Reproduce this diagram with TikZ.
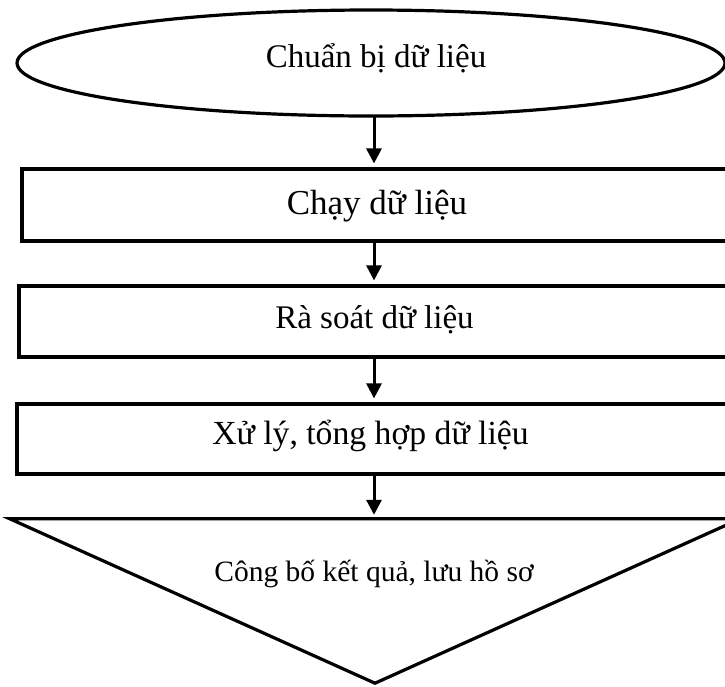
\documentclass[tikz,border=0pt]{standalone}
\usepackage{fontspec}
\setmainfont{Liberation Serif}
\usetikzlibrary{shapes.geometric,arrows.meta}
\tikzset{
  shapeline/.style={draw=black, line width=3.2pt},
  ellbox/.style={shapeline, ellipse, inner sep=0pt, minimum width=708pt, minimum height=106pt},
  stepbox/.style={shapeline, rectangle, inner sep=0pt},
  txt/.style={anchor=base, inner sep=0pt, font=\fontsize{33}{40}\selectfont},
  bigtxt/.style={anchor=base, inner sep=0pt, font=\fontsize{35}{42}\selectfont},
  arr/.style={line width=3pt, -{Triangle[width=15pt,length=15pt]}, shorten >=4pt},
}
\begin{document}
\begin{tikzpicture}[x=1pt,y=-1pt]
\useasboundingbox (0,0) rectangle (725,686);
% shapes
\node[ellbox] (s1) at (371,63) {};
\node[stepbox, minimum width=708pt, minimum height=72pt] (s2) at (376,205) {};
\node[stepbox, minimum width=711pt, minimum height=71pt] (s3) at (374.5,321.5) {};
\node[stepbox, minimum width=713pt, minimum height=70pt] (s4) at (373.5,439) {};
\node[inner sep=0pt, minimum width=730pt, minimum height=164pt] (s5) at (375,601) {};
\draw[shapeline, line join=miter] (s5.north west) -- (s5.north east) -- (s5.south) -- cycle;
% texts
\node[txt] (t1) at (376,67) {Chuẩn bị dữ liệu};
\node[bigtxt] (t2) at (377,214) {Chạy dữ liệu};
\node[txt] (t3) at (374.5,328) {Rà soát dữ liệu};
\node[txt, font=\fontsize{33.7}{40}\selectfont] (t4) at (370.5,444) {Xử lý, tổng hợp dữ liệu};
\node[txt, font=\fontsize{29.5}{36}\selectfont] (t5) at (374,581) {Công bố kết quả, lưu hồ sơ};
% arrows
\coordinate (a1) at (374,117);
\draw[arr] (a1) -- (a1 |- s2.north);
\draw[arr] (a1 |- s2.south) -- (a1 |- s3.north);
\draw[arr] (a1 |- s3.south) -- (a1 |- s4.north);
\draw[arr] (a1 |- s4.south) -- (a1 |- s5.north);
\end{tikzpicture}
\end{document}
